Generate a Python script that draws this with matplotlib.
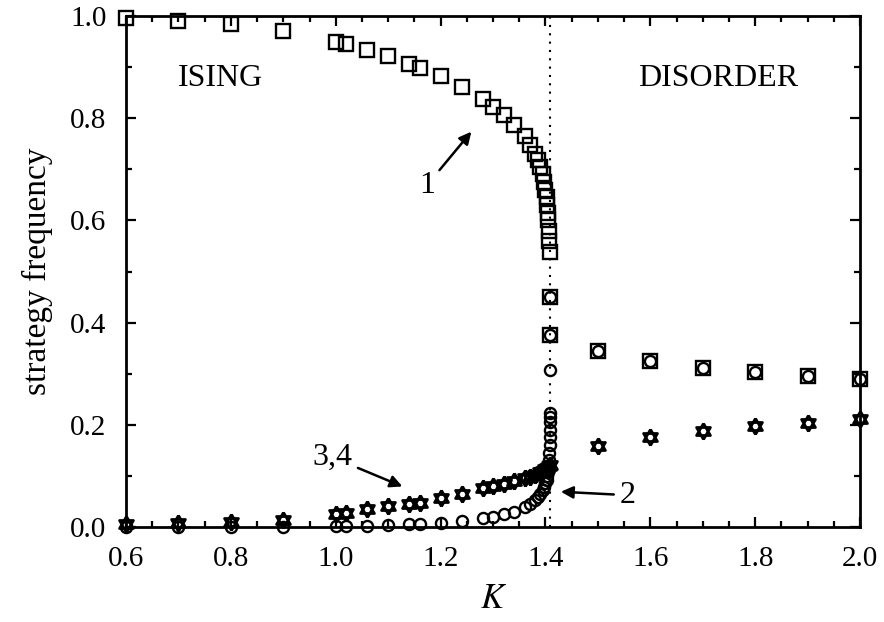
import matplotlib
matplotlib.use('Agg')
import matplotlib.pyplot as plt
from matplotlib.ticker import MultipleLocator

plt.rcParams['font.family'] = ['Liberation Serif', 'DejaVu Serif']
plt.rcParams['mathtext.fontset'] = 'stix'

# strategy 1 (squares)
k_sq = [0.6, 0.7, 0.8, 0.9, 1.0, 1.02, 1.06, 1.10, 1.14, 1.16, 1.20, 1.24, 1.28, 1.30, 1.32,
        1.34, 1.36, 1.37, 1.38, 1.385, 1.39, 1.395, 1.398, 1.400, 1.402, 1.403, 1.404, 1.405,
        1.406, 1.407, 1.408, 1.408, 1.408, 1.5, 1.6, 1.7, 1.8, 1.9, 2.0]
f_sq = [0.996, 0.991, 0.984, 0.971, 0.950, 0.945, 0.933, 0.922, 0.907, 0.899, 0.882, 0.861,
        0.838, 0.823, 0.806, 0.787, 0.765, 0.748, 0.730, 0.718, 0.705, 0.690, 0.675, 0.660,
        0.645, 0.630, 0.615, 0.600, 0.580, 0.560, 0.538, 0.450, 0.376,
        0.345, 0.325, 0.312, 0.303, 0.296, 0.290]

# strategy 2 (circles)
k_ci = [0.6, 0.7, 0.8, 0.9, 1.0, 1.02, 1.06, 1.10, 1.14, 1.16, 1.20, 1.24, 1.28, 1.30, 1.32,
        1.34, 1.36, 1.37, 1.38, 1.385, 1.39, 1.395, 1.398, 1.400, 1.402, 1.403, 1.404, 1.405,
        1.406, 1.407, 1.408, 1.408, 1.408, 1.408, 1.408, 1.408, 1.408, 1.408, 1.408,
        1.5, 1.6, 1.7, 1.8, 1.9, 2.0]
f_ci = [0.0, 0.0, 0.0, 0.0, 0.001, 0.001, 0.002, 0.003, 0.005, 0.005, 0.008, 0.012, 0.017,
        0.020, 0.025, 0.030, 0.038, 0.045, 0.052, 0.058, 0.064, 0.072, 0.078, 0.085, 0.092,
        0.100, 0.108, 0.118, 0.130, 0.145,
        0.160, 0.175, 0.190, 0.205, 0.215, 0.222, 0.307, 0.376, 0.450,
        0.345, 0.325, 0.312, 0.303, 0.296, 0.290]

# strategies 3 and 4 (stars)
k_st = [0.6, 0.7, 0.8, 0.9, 1.0, 1.02, 1.06, 1.10, 1.14, 1.16, 1.20, 1.24, 1.28, 1.30, 1.32,
        1.34, 1.36, 1.37, 1.38, 1.39, 1.395, 1.40, 1.403, 1.406, 1.408,
        1.5, 1.6, 1.7, 1.8, 1.9, 2.0]
f_st = [0.006, 0.007, 0.009, 0.014, 0.025, 0.027, 0.035, 0.040, 0.045, 0.046, 0.056, 0.065,
        0.076, 0.080, 0.084, 0.089, 0.095, 0.098, 0.102, 0.107, 0.110, 0.113, 0.116, 0.119, 0.122,
        0.158, 0.175, 0.188, 0.198, 0.204, 0.211]

k_crit = 1.408

tri_up = [(0, 1), (-0.866, -0.5), (0.866, -0.5), (0, 1)]
tri_down = [(0, -1), (-0.866, 0.5), (0.866, 0.5), (0, -1)]

fig = plt.figure(figsize=(8.84, 6.22), dpi=100)
ax = fig.add_axes([0.1425, 0.153, 0.8305, 0.821])

ax.axvline(k_crit, color='black', linestyle=(0, (1, 3)), linewidth=1.5)

ax.plot(k_ci, f_ci, linestyle='none', marker='o', markersize=8, markerfacecolor='none',
        markeredgecolor='black', markeredgewidth=1.7, clip_on=False)
ax.plot(k_sq, f_sq, linestyle='none', marker='s', markersize=9.5, markerfacecolor='none',
        markeredgecolor='black', markeredgewidth=1.7, clip_on=False)
for tri in (tri_up, tri_down):
    ax.plot(k_st, f_st, linestyle='none', marker=tri, markersize=11.5, markerfacecolor='none',
            markeredgecolor='black', markeredgewidth=2, clip_on=False)

ax.set_xlim(0.6, 2.0)
ax.set_ylim(0.0, 1.0)
ax.xaxis.set_major_locator(MultipleLocator(0.2))
ax.xaxis.set_minor_locator(MultipleLocator(0.05))
ax.yaxis.set_major_locator(MultipleLocator(0.2))
ax.yaxis.set_minor_locator(MultipleLocator(0.1))
ax.xaxis.set_major_formatter(plt.FormatStrFormatter('%.1f'))
ax.yaxis.set_major_formatter(plt.FormatStrFormatter('%.1f'))

ax.tick_params(which='both', direction='in', top=True, right=True, width=1.6, labelsize=21)
ax.tick_params(which='major', length=7, pad=14)
ax.tick_params(which='minor', length=4)
for s in ax.spines.values():
    s.set_linewidth(2)

ax.set_xlabel('$K$', fontsize=25, labelpad=8)
ax.set_ylabel('strategy frequency', fontsize=24, labelpad=12)

ax.text(0.78, 0.877, 'ISING', fontsize=23, ha='center', va='center')
ax.text(1.73, 0.877, 'DISORDER', fontsize=23, ha='center', va='center')

arrow = dict(arrowstyle='-|>', color='black', lw=1.8, mutation_scale=18)
ax.annotate('1', xy=(1.262, 0.778), xytext=(1.174, 0.669), fontsize=23,
            ha='center', va='center', arrowprops=arrow)
ax.annotate('2', xy=(1.424, 0.069), xytext=(1.556, 0.062), fontsize=23,
            ha='center', va='center', arrowprops=arrow)
ax.annotate('3,4', xy=(1.132, 0.077), xytext=(0.994, 0.136), fontsize=23,
            ha='center', va='center', arrowprops=arrow)

fig.savefig('out.png', dpi=100)
